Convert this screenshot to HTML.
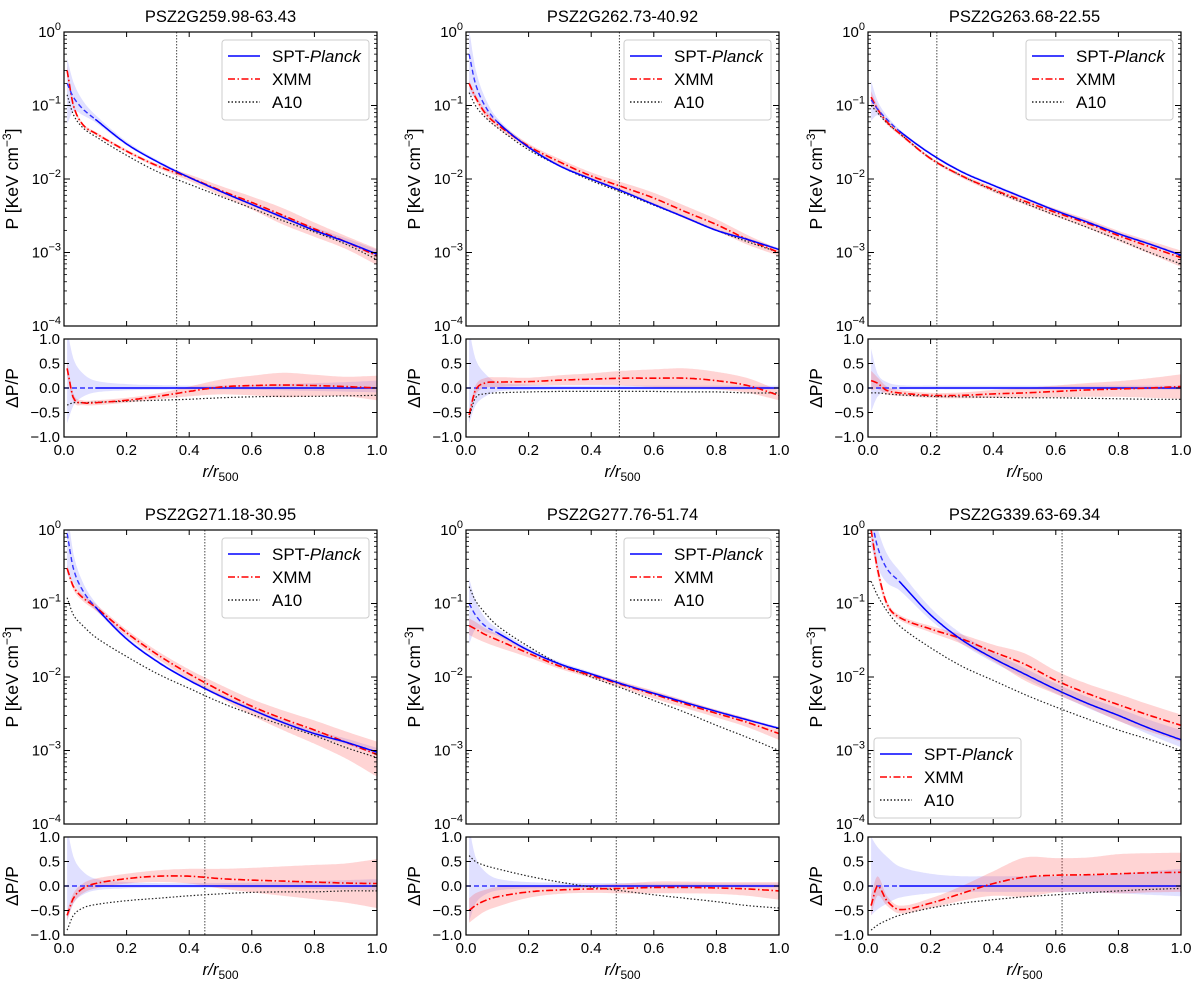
<!DOCTYPE html>
<html><head><meta charset="utf-8"><style>
html,body{margin:0;padding:0;background:#fff}
svg{display:block;font-family:"Liberation Sans","DejaVu Sans",sans-serif}
</style></head><body>
<svg id="fig" width="1200" height="982" viewBox="0 0 1200 982" xmlns="http://www.w3.org/2000/svg"></svg>
<script>
const R = [0.01,0.03,0.06,0.1,0.2,0.3,0.4,0.5,0.6,0.7,0.8,0.9,1.0];
const titles = ["PSZ2G259.98-63.43","PSZ2G262.73-40.92","PSZ2G263.68-22.55","PSZ2G271.18-30.95","PSZ2G277.76-51.74","PSZ2G339.63-69.34"];
const vlines = [0.36,0.49,0.22,0.45,0.48,0.62];
const legendPos = ["tr","tr","tr","tr","tr","bl"];
const sptP = [
 [0.2,0.13,0.09,0.065,0.03,0.017,0.0105,0.0068,0.0045,0.003,0.002,0.0014,0.00095],
 [0.5,0.2,0.1,0.06,0.027,0.015,0.01,0.0068,0.0045,0.003,0.002,0.0015,0.0011],
 [0.12,0.09,0.065,0.045,0.022,0.0125,0.0082,0.0055,0.0037,0.0026,0.0018,0.0013,0.00092],
 [0.9,0.3,0.15,0.09,0.033,0.016,0.009,0.0055,0.0036,0.0024,0.0017,0.0013,0.00095],
 [0.1,0.07,0.05,0.04,0.023,0.015,0.011,0.008,0.006,0.0045,0.0034,0.0026,0.002],
 [1.5,0.6,0.3,0.2,0.07,0.032,0.018,0.011,0.0068,0.0044,0.003,0.002,0.0014]];
const xmmP = [
 [0.3,0.1,0.055,0.042,0.024,0.015,0.0105,0.007,0.0048,0.0032,0.0021,0.0014,0.0009],
 [0.2,0.13,0.08,0.055,0.028,0.017,0.011,0.0078,0.0055,0.0036,0.0024,0.0015,0.001],
 [0.13,0.09,0.06,0.042,0.019,0.011,0.0072,0.005,0.0035,0.0025,0.0017,0.0012,0.00085],
 [0.3,0.17,0.12,0.09,0.04,0.02,0.011,0.0065,0.004,0.0027,0.0019,0.0013,0.00088],
 [0.05,0.045,0.038,0.032,0.021,0.014,0.0105,0.0078,0.0058,0.0043,0.0032,0.0024,0.0017],
 [1.0,0.3,0.1,0.065,0.045,0.033,0.022,0.015,0.009,0.006,0.0042,0.003,0.0022]];
const a10P = [
 [0.14,0.075,0.05,0.038,0.021,0.0125,0.0085,0.0058,0.004,0.0027,0.0019,0.0013,0.0008],
 [0.15,0.1,0.07,0.05,0.025,0.015,0.0095,0.0065,0.0044,0.003,0.002,0.0014,0.001],
 [0.1,0.08,0.058,0.042,0.019,0.011,0.007,0.0047,0.0032,0.0022,0.0015,0.001,0.0007],
 [0.12,0.07,0.05,0.035,0.019,0.011,0.007,0.0045,0.0031,0.0022,0.0016,0.0011,0.0008],
 [0.17,0.11,0.075,0.05,0.026,0.015,0.01,0.007,0.0048,0.0033,0.0022,0.0015,0.001],
 [0.2,0.13,0.08,0.05,0.025,0.014,0.009,0.0058,0.0039,0.0027,0.0019,0.0014,0.001]];
const sptErr = [
 [1.2,0.6,0.3,0.15,0.08,0.06,0.05,0.05,0.06,0.08,0.1,0.12,0.15],
 [1.2,0.6,0.3,0.12,0.07,0.05,0.05,0.05,0.05,0.05,0.05,0.05,0.05],
 [0.8,0.3,0.12,0.06,0.05,0.05,0.05,0.05,0.05,0.05,0.05,0.05,0.05],
 [1.2,0.6,0.3,0.15,0.08,0.06,0.06,0.06,0.07,0.08,0.1,0.12,0.14],
 [1.2,0.6,0.3,0.15,0.08,0.07,0.06,0.06,0.05,0.05,0.05,0.05,0.05],
 [1.0,0.8,0.6,0.4,0.25,0.2,0.2,0.2,0.2,0.22,0.25,0.3,0.35]];
const xmmRes = [
 [0.4,-0.2,-0.3,-0.3,-0.25,-0.17,-0.07,0.02,0.05,0.06,0.05,0.03,0.0],
 [-0.55,-0.05,0.1,0.12,0.13,0.16,0.18,0.2,0.2,0.2,0.15,0.05,-0.15],
 [0.15,0.1,-0.05,-0.1,-0.15,-0.15,-0.12,-0.1,-0.07,-0.04,-0.02,0.0,0.03],
 [-0.6,-0.25,-0.05,0.05,0.15,0.2,0.2,0.15,0.12,0.1,0.08,0.06,0.05],
 [-0.5,-0.4,-0.3,-0.22,-0.12,-0.08,-0.06,-0.05,-0.03,-0.03,-0.04,-0.06,-0.1],
 [-0.4,0.0,-0.3,-0.48,-0.35,-0.15,0.05,0.18,0.22,0.23,0.25,0.27,0.28]];
const xmmErr = [
 [0.15,0.08,0.05,0.05,0.05,0.06,0.1,0.15,0.2,0.25,0.22,0.2,0.25],
 [0.1,0.1,0.1,0.1,0.08,0.1,0.12,0.15,0.18,0.2,0.18,0.15,0.1],
 [0.2,0.12,0.08,0.06,0.05,0.06,0.08,0.1,0.12,0.14,0.16,0.2,0.25],
 [0.1,0.1,0.1,0.1,0.1,0.12,0.15,0.2,0.25,0.3,0.35,0.4,0.5],
 [0.25,0.25,0.22,0.2,0.12,0.08,0.08,0.1,0.12,0.12,0.12,0.14,0.18],
 [0.2,0.2,0.1,0.08,0.1,0.15,0.25,0.4,0.35,0.35,0.4,0.4,0.4]];
const a10Res = [
 [-0.35,-0.3,-0.3,-0.29,-0.27,-0.25,-0.23,-0.2,-0.18,-0.17,-0.17,-0.16,-0.15],
 [-0.6,-0.2,-0.12,-0.1,-0.08,-0.07,-0.07,-0.07,-0.07,-0.08,-0.08,-0.1,-0.1],
 [-0.1,-0.1,-0.12,-0.14,-0.17,-0.18,-0.19,-0.2,-0.2,-0.21,-0.22,-0.23,-0.23],
 [-0.9,-0.6,-0.45,-0.38,-0.3,-0.25,-0.2,-0.16,-0.13,-0.12,-0.12,-0.1,-0.1],
 [0.62,0.5,0.42,0.35,0.2,0.08,-0.02,-0.1,-0.18,-0.25,-0.32,-0.4,-0.45],
 [-0.9,-0.8,-0.7,-0.6,-0.45,-0.35,-0.28,-0.22,-0.18,-0.14,-0.1,-0.07,-0.05]];
const xTicks = [0,0.2,0.4,0.6,0.8,1.0];
const xTickLabels = ["0.0","0.2","0.4","0.6","0.8","1.0"];
const resTicks = [-1,-0.5,0,0.5,1];
const resTickLabels = ["\u22121.0","\u22120.5","0.0","0.5","1.0"];
const logTicks = [-4,-3,-2,-1,0];

const NS="http://www.w3.org/2000/svg";
const svg=document.getElementById('fig');
function mk(tag,attrs,parent){const e=document.createElementNS(NS,tag);for(const k in attrs)e.setAttribute(k,attrs[k]);(parent||svg).appendChild(e);return e;}

function interp(xs,ys,x){
  let i=0; while(i<xs.length-2 && x>xs[i+1]) i++;
  const x0=xs[i],x1=xs[i+1]; const t=(x-x0)/(x1-x0);
  const y0=ys[i],y1=ys[i+1];
  const m0 = i>0 ? (ys[i+1]-ys[i-1])/(xs[i+1]-xs[i-1]) : (y1-y0)/(x1-x0);
  const m1 = i<xs.length-2 ? (ys[i+2]-ys[i])/(xs[i+2]-xs[i]) : (y1-y0)/(x1-x0);
  const h=x1-x0,t2=t*t,t3=t2*t;
  return (2*t3-3*t2+1)*y0+(t3-2*t2+t)*h*m0+(-2*t3+3*t2)*y1+(t3-t2)*h*m1;
}
function samples(a,b,n){const o=[];for(let i=0;i<=n;i++)o.push(a+(b-a)*i/n);return o;}

const colX=[64,466,868], W=313;
const rowY=[32,530], TH=294, RY=307, RH=98;

for(let p=0;p<6;p++){
  const c=p%3, r=Math.floor(p/3);
  const L=colX[c], T=rowY[r], B=T+TH, RT=T+RY, RB=RT+RH;
  const g=mk('g',{});
  
  
  const xs=v=>L+v*W;
  const yl=v=>B-(Math.log10(v)+4)/4*TH;
  const yr=v=>RT+(1-v)/2*RH;
  const clipId='clipT'+p, clipR='clipR'+p;
  const defs=mk('defs',{},g);
  const cp=mk('clipPath',{id:clipId},defs); mk('rect',{x:L,y:T,width:W,height:TH},cp);
  const cr=mk('clipPath',{id:clipR},defs); mk('rect',{x:L,y:RT,width:W,height:RH},cr);

  const tt=mk('text',{x:L+W/2,y:T-10,'text-anchor':'middle','font-size':16.5,fill:'#000'},g);
  tt.textContent=titles[p];
  
  

  const xsS=samples(0.01,1,200);
  const top=mk('g',{'clip-path':'url(#'+clipId+')'},g);
  
  
  const lS=sptP[p].map(v=>Math.log10(v)), lX=xmmP[p].map(v=>Math.log10(v)), lA=a10P[p].map(v=>Math.log10(v));
  const lSu=sptP[p].map((v,i)=>Math.log10(v*(1+sptErr[p][i])));
  const lSd=sptP[p].map((v,i)=>Math.log10(v*Math.max(0.08,1-sptErr[p][i]*0.6)));
  const lXu=xmmP[p].map((v,i)=>Math.log10(v*(1+xmmErr[p][i])));
  const lXd=xmmP[p].map((v,i)=>Math.log10(v*Math.max(0.05,1-xmmErr[p][i])));
  function bandPath(up,dn,yf,logm){
    const f=logm?(v=>yf(Math.pow(10,v))):yf;
    let d='M'; xsS.forEach((x,i)=>{d+=(i?'L':'')+xs(x).toFixed(1)+','+f(interp(R,up,x)).toFixed(1);});
    for(let i=xsS.length-1;i>=0;i--){d+='L'+xs(xsS[i]).toFixed(1)+','+f(interp(R,dn,xsS[i])).toFixed(1);}
    return d+'Z';
  }
  function linePath(ys,yf,logm,a,b){
    const f=logm?(v=>yf(Math.pow(10,v))):yf;
    let d=''; samples(a,b,160).forEach((x,i)=>{d+=(i?'L':'M')+xs(x).toFixed(1)+','+f(interp(R,ys,x)).toFixed(1);});
    return d;
  }
  let e;
  e=mk('path',{d:bandPath(lSu,lSd,yl,true),fill:'rgba(70,70,255,0.17)',stroke:'none'},top);
   
  e=mk('path',{d:bandPath(lXu,lXd,yl,true),fill:'rgba(255,60,60,0.22)',stroke:'none'},top);
   
  e=mk('path',{d:linePath(lA,yl,true,0.01,1),fill:'none',stroke:'#222','stroke-width':1.2,'stroke-dasharray':'1.5,2'},top);
   
  e=mk('path',{d:linePath(lX,yl,true,0.01,1),fill:'none',stroke:'#f00','stroke-width':1.6,'stroke-dasharray':'7,2.5,1.5,2.5'},top);
   
  e=mk('path',{d:linePath(lS,yl,true,0.01,0.1),fill:'none',stroke:'#33f','stroke-width':1.4,'stroke-dasharray':'5,3'},top);
   
  e=mk('path',{d:linePath(lS,yl,true,0.1,1),fill:'none',stroke:'#00f','stroke-width':1.5},top);
   
  e=mk('line',{x1:xs(vlines[p]),x2:xs(vlines[p]),y1:T,y2:B,stroke:'#333','stroke-width':0.9,'stroke-dasharray':'1.5,1.5'},g);
   
  e=mk('line',{x1:xs(vlines[p]),x2:xs(vlines[p]),y1:RT,y2:RB,stroke:'#333','stroke-width':0.9,'stroke-dasharray':'1.5,1.5'},g);
   

  const res=mk('g',{'clip-path':'url(#'+clipR+')'},g);
  
  
  const sU=sptErr[p].map(v=>v), sD=sptErr[p].map(v=>-v*0.6);
  const xU=xmmRes[p].map((v,i)=>v+xmmErr[p][i]), xD=xmmRes[p].map((v,i)=>v-xmmErr[p][i]);
  e=mk('path',{d:bandPath(sU,sD,yr,false),fill:'rgba(70,70,255,0.17)'},res);
   
  e=mk('path',{d:bandPath(xU,xD,yr,false),fill:'rgba(255,60,60,0.22)'},res);
   
  e=mk('line',{x1:xs(0),x2:xs(0.1),y1:yr(0),y2:yr(0),stroke:'#33f','stroke-width':1.4,'stroke-dasharray':'5,3'},res);
   
  e=mk('line',{x1:xs(0.1),x2:xs(1),y1:yr(0),y2:yr(0),stroke:'#00f','stroke-width':1.5},res);
   
  e=mk('path',{d:linePath(a10Res[p],yr,false,0.01,1),fill:'none',stroke:'#222','stroke-width':1.2,'stroke-dasharray':'1.5,2'},res);
   
  e=mk('path',{d:linePath(xmmRes[p],yr,false,0.01,1),fill:'none',stroke:'#f00','stroke-width':1.6,'stroke-dasharray':'7,2.5,1.5,2.5'},res);
   

  mk('rect',{x:L,y:T,width:W,height:TH,fill:'none',stroke:'#000','stroke-width':1.2},g);
  mk('rect',{x:L,y:RT,width:W,height:RH,fill:'none',stroke:'#000','stroke-width':1.2},g);

  xTicks.forEach((v,i)=>{
    const x=xs(v);
    [[T,1],[B,-1],[RT,1],[RB,-1]].forEach(([y,s])=>mk('line',{x1:x,x2:x,y1:y,y2:y+5*s,stroke:'#000','stroke-width':1},g));
    const t=mk('text',{x:x,y:RB+18,'text-anchor':'middle','font-size':15},g);
    t.textContent=xTickLabels[i];
     
  });
  logTicks.forEach(k=>{
    const y=yl(Math.pow(10,k));
    mk('line',{x1:L,x2:L+6,y1:y,y2:y,stroke:'#000','stroke-width':1},g);
    mk('line',{x1:L+W,x2:L+W-6,y1:y,y2:y,stroke:'#000','stroke-width':1},g);
    const t=mk('text',{x:L-3,y:y+5,'text-anchor':'end','font-size':15},g);
     
    const a=mk('tspan',{},t); a.textContent='10';
    const b=mk('tspan',{dy:-7,'font-size':11},t); b.textContent=k===0?'0':'\u2212'+(-k);
    if(k<0) for(let m=2;m<=9;m++){
      const ym=yl(m*Math.pow(10,k));
      mk('line',{x1:L,x2:L+3,y1:ym,y2:ym,stroke:'#000','stroke-width':0.8},g);
      mk('line',{x1:L+W,x2:L+W-3,y1:ym,y2:ym,stroke:'#000','stroke-width':0.8},g);
    }
  });
  resTicks.forEach((v,i)=>{
    const y=yr(v);
    mk('line',{x1:L,x2:L+5,y1:y,y2:y,stroke:'#000','stroke-width':1},g);
    mk('line',{x1:L+W,x2:L+W-5,y1:y,y2:y,stroke:'#000','stroke-width':1},g);
    const t=mk('text',{x:L-4,y:y+5,'text-anchor':'end','font-size':15},g);
    t.textContent=resTickLabels[i];
     
  });
  let yt=mk('text',{transform:'translate('+(L-46)+','+(T+TH/2)+') rotate(-90)','text-anchor':'middle','font-size':17.5},g);
   
  mk('tspan',{},yt).textContent='P [KeV cm';
  mk('tspan',{dy:-7,'font-size':12},yt).textContent='\u22123';
  mk('tspan',{dy:7},yt).textContent=']';
  yt=mk('text',{transform:'translate('+(L-46)+','+(RT+RH/2)+') rotate(-90)','text-anchor':'middle','font-size':17.5},g);
  yt.textContent='\u0394P/P';
   
  const xt=mk('text',{x:L+W/2,y:RB+40,'text-anchor':'middle','font-size':17},g);
   
  mk('tspan',{'font-style':'italic'},xt).textContent='r/r';
  mk('tspan',{dy:4,'font-size':12},xt).textContent='500';

  const lw=147,lh=80;
  const lx= legendPos[p]==='tr' ? L+W-lw-8 : L+6;
  const ly= legendPos[p]==='tr' ? T+8 : B-lh-6;
  const leg=mk('g',{},g);
   
  mk('rect',{x:lx,y:ly,width:lw,height:lh,rx:3,fill:'rgba(255,255,255,0.85)',stroke:'#ccc','stroke-width':1},leg);
  const ent=[['SPT-','Planck','#00f',''],['XMM','','#f00','7,2.5,1.5,2.5'],['A10','','#222','1.5,2']];
  ent.forEach((en,i)=>{
    const y=ly+16+i*23;
    const ln=mk('line',{x1:lx+6,x2:lx+38,y1:y,y2:y,stroke:en[2],'stroke-width':1.5},leg);
    if(en[3]) ln.setAttribute('stroke-dasharray',en[3]);
    const t=mk('text',{x:lx+50,y:y+6,'font-size':17},leg);
     
    mk('tspan',{},t).textContent=en[0];
    if(en[1]) mk('tspan',{'font-style':'italic'},t).textContent=en[1];
  });
}
</script>
</body></html>
